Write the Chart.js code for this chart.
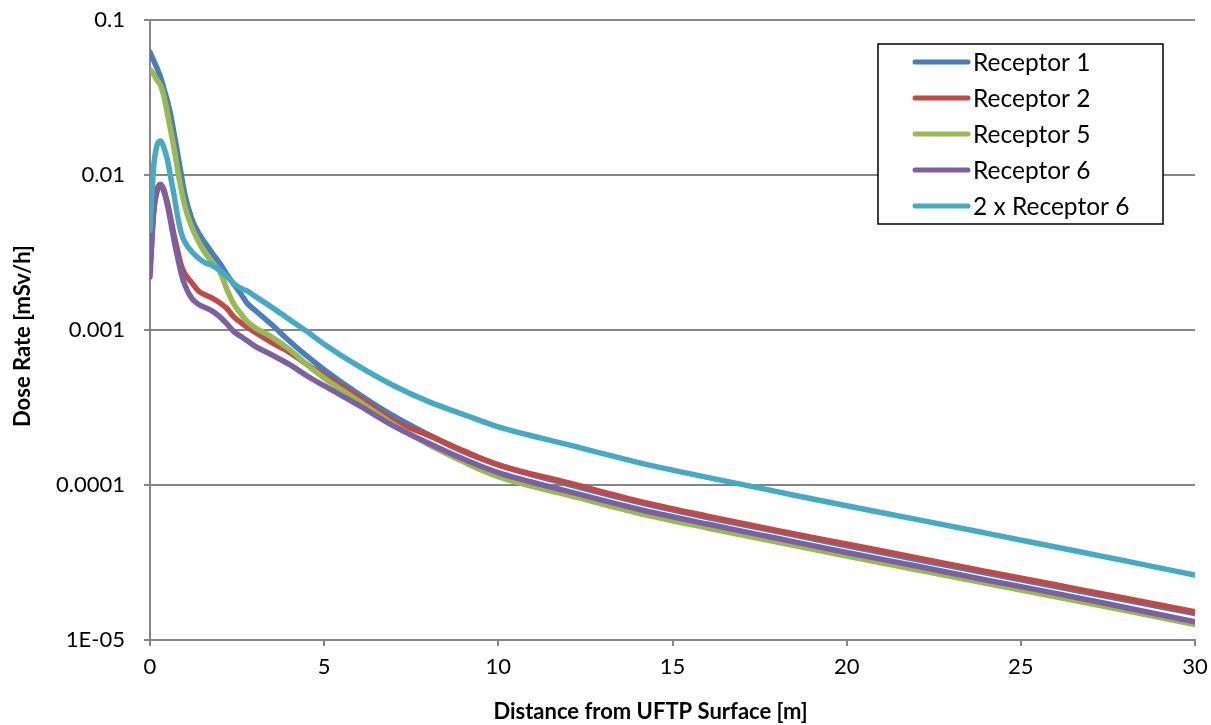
<!DOCTYPE html>
<html>
<head>
<meta charset="utf-8">
<script src="https://cdn.jsdelivr.net/npm/chart.js@4.4.1/dist/chart.umd.min.js"></script>
<style>
  html, body { margin: 0; padding: 0; background: #fff; }
  #wrap { width: 1211px; height: 725px; position: relative; }
</style>
</head>
<body>
<div id="wrap"><canvas id="c"></canvas></div>
<script>
// ---- data ----
const distances = [0, 0.1, 0.2, 0.3, 0.4, 0.5, 0.6, 0.7, 0.8, 0.9, 1.0, 1.2, 1.4, 1.6, 1.8, 2.0, 2.2, 2.4, 2.6, 2.8, 3.0, 3.5, 4, 4.5, 5, 6, 7, 8, 9, 10, 12, 14, 16, 18, 20, 22, 24, 26, 28, 30];

const receptor1 = [0.062, 0.055, 0.049, 0.043, 0.036, 0.030, 0.024, 0.018, 0.0135, 0.0100, 0.0075, 0.0052, 0.0042, 0.0036, 0.0031, 0.0027, 0.0023, 0.00198, 0.00172, 0.00148, 0.00135, 0.00108, 0.00085, 0.00068, 0.000555, 0.000385, 0.000278, 0.000211, 0.000164, 0.000135, 0.000101, 0.0000776, 0.0000617, 0.0000500, 0.0000405, 0.0000331, 0.0000270, 0.0000221, 0.0000181, 0.0000148];

const receptor2 = [0.0025, 0.0058, 0.0080, 0.0087, 0.0080, 0.0066, 0.0052, 0.0040, 0.0032, 0.0026, 0.0023, 0.00202, 0.00178, 0.00168, 0.0016, 0.0015, 0.00138, 0.00122, 0.00112, 0.00104, 0.00097, 0.00083, 0.00072, 0.0006, 0.00051, 0.000367, 0.00026, 0.000209, 0.000166, 0.000135, 0.0001035, 0.000079, 0.000063, 0.000051, 0.0000416, 0.000034, 0.0000277, 0.0000227, 0.0000186, 0.0000152];

const receptor5 = [0.048, 0.045, 0.041, 0.038, 0.032, 0.025, 0.019, 0.0145, 0.0105, 0.0080, 0.0063, 0.0046, 0.0037, 0.0031, 0.0027, 0.0024, 0.00185, 0.00148, 0.00128, 0.00113, 0.00104, 0.00090, 0.00075, 0.00060, 0.00049, 0.000347, 0.000245, 0.000182, 0.000141, 0.000113, 0.000086, 0.000066, 0.0000528, 0.0000428, 0.0000348, 0.0000284, 0.0000232, 0.000019, 0.0000155, 0.0000126];

const receptor6 = [0.0022, 0.0055, 0.0078, 0.0086, 0.0078, 0.0064, 0.0049, 0.0037, 0.0029, 0.0023, 0.00195, 0.0016, 0.00146, 0.00139, 0.00132, 0.00122, 0.00110, 0.00098, 0.00091, 0.00085, 0.00079, 0.00069, 0.0006, 0.000507, 0.000437, 0.000326, 0.00024, 0.000186, 0.000147, 0.00012, 0.000091, 0.00007, 0.000056, 0.0000453, 0.0000367, 0.00003, 0.0000244, 0.00002, 0.0000162, 0.0000131];

const receptor6x2 = [0.0044, 0.011, 0.0155, 0.0166, 0.015, 0.0125, 0.0095, 0.0072, 0.0053, 0.0042, 0.0037, 0.0032, 0.0029, 0.0027, 0.0026, 0.00243, 0.00222, 0.0020, 0.00186, 0.00178, 0.00166, 0.0014, 0.00117, 0.00098, 0.00081, 0.000582, 0.000437, 0.000345, 0.000285, 0.000237, 0.000182, 0.00014, 0.000112, 0.0000906, 0.0000734, 0.00006, 0.0000489, 0.0000398, 0.0000324, 0.0000262];

const seriesNames = ['Receptor 1', 'Receptor 2', 'Receptor 5', 'Receptor 6', '2 x Receptor 6'];
const seriesColors = ['#4A7EBB', '#BE4B48', '#98B954', '#7D60A0', '#46AAC5'];
const seriesValues = [receptor1, receptor2, receptor5, receptor6, receptor6x2];

const yTickValues = [0.00001, 0.0001, 0.001, 0.01, 0.1];
const yTickLabels = ['1E-05', '0.0001', '0.001', '0.01', '0.1'];
const xTickValues = [0, 5, 10, 15, 20, 25, 30];

const xTitle = 'Distance from UFTP Surface [m]';
const yTitle = 'Dose Rate [mSv/h]';

// ---- chart ----
const FONT = 'Lato, "Open Sans", "DejaVu Sans", sans-serif';
const GRID = '#868686';

const datasets = seriesValues.map((vals, i) => ({
  label: seriesNames[i],
  data: distances.map((d, j) => ({ x: d, y: vals[j] })),
  borderColor: seriesColors[i],
  backgroundColor: seriesColors[i],
  borderWidth: 5.5,
  pointRadius: 0,
  fill: false,
  cubicInterpolationMode: 'monotone',
  borderCapStyle: 'round',
  borderJoinStyle: 'round',
  order: seriesValues.length - i
}));

const boxLegend = {
  id: 'boxLegend',
  afterDraw(chart) {
    const ctx = chart.ctx;
    const ca = chart.chartArea;
    const bx = ca.right - 317, by = ca.top + 24, bw = 285, bh = 180;
    ctx.save();
    ctx.fillStyle = '#ffffff';
    ctx.fillRect(bx, by, bw, bh);
    ctx.strokeStyle = '#000000';
    ctx.lineWidth = 1.5;
    ctx.strokeRect(bx, by, bw, bh);
    ctx.font = '24.5px ' + FONT;
    ctx.textBaseline = 'middle';
    ctx.textAlign = 'left';
    chart.data.datasets.forEach((ds, i) => {
      const yy = by + 18 + i * 36;
      ctx.strokeStyle = ds.borderColor;
      ctx.lineWidth = 5;
      ctx.lineCap = 'round';
      ctx.beginPath();
      ctx.moveTo(bx + 37, yy);
      ctx.lineTo(bx + 90, yy);
      ctx.stroke();
      ctx.fillStyle = '#000000';
      ctx.fillText(ds.label, bx + 95, yy + 1);
    });
    ctx.restore();
  }
};

const axisTitles = {
  id: 'axisTitles',
  afterDraw(chart) {
    const ctx = chart.ctx;
    const ca = chart.chartArea;
    ctx.save();
    ctx.fillStyle = '#000000';
    ctx.font = 'bold 22px ' + FONT;
    ctx.textAlign = 'center';
    ctx.textBaseline = 'middle';
    ctx.fillText(xTitle, (ca.left + ca.right) / 2 - 22, ca.bottom + 72);
    ctx.translate(23, (ca.top + ca.bottom) / 2 + 6);
    ctx.rotate(-Math.PI / 2);
    ctx.fillText(yTitle, 0, 0);
    ctx.restore();
  }
};

new Chart(document.getElementById('c'), {
  type: 'line',
  data: { datasets },
  plugins: [boxLegend, axisTitles],
  options: {
    responsive: true,
    maintainAspectRatio: false,
    animation: false,
    layout: { padding: { top: 20, right: 16, left: 0, bottom: 0 } },
    plugins: {
      legend: { display: false },
      tooltip: { enabled: false },
      title: { display: false }
    },
    scales: {
      x: {
        type: 'linear',
        min: 0,
        max: 30,
        afterBuildTicks(scale) { scale.ticks = xTickValues.map(v => ({ value: v })); },
        afterFit(scale) {
          scale.height = 85;
          scale.paddingLeft = 0;
          scale.paddingRight = 0;
        },
        ticks: {
          font: { family: FONT, size: 22 },
          color: '#000000',
          padding: 8,
          maxRotation: 0,
          callback: v => String(v)
        },
        grid: { drawOnChartArea: false, drawTicks: true, tickLength: 6, color: GRID, lineWidth: 2 },
        border: { display: true, color: GRID, width: 2 }
      },
      y: {
        type: 'logarithmic',
        min: 0.00001,
        max: 0.1,
        afterBuildTicks(scale) { scale.ticks = yTickValues.map(v => ({ value: v, major: true })); },
        afterFit(scale) {
          scale.width = 150;
          scale.paddingTop = 0;
          scale.paddingBottom = 0;
        },
        ticks: {
          font: { family: FONT, size: 22 },
          color: '#000000',
          padding: 19,
          autoSkip: false,
          callback: (v) => {
            const k = yTickValues.findIndex(t => Math.abs(Math.log10(t) - Math.log10(v)) < 1e-6);
            return k >= 0 ? yTickLabels[k] : '';
          }
        },
        grid: { drawOnChartArea: true, drawTicks: true, tickLength: 6, color: GRID, lineWidth: 2 },
        border: { display: true, color: GRID, width: 2 }
      }
    }
  }
});
</script>
</body>
</html>
